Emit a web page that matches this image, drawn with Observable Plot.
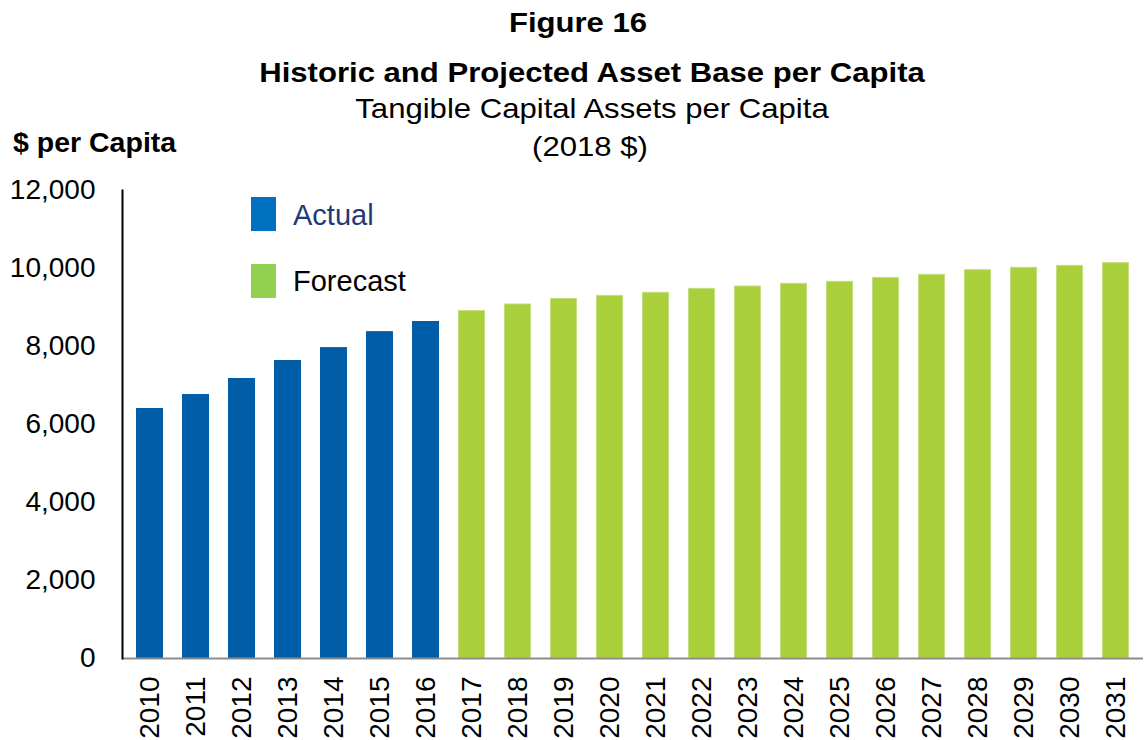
<!DOCTYPE html>
<html>
<head>
<meta charset="utf-8">
<script src="https://cdn.jsdelivr.net/npm/d3@7"></script>
<script src="https://cdn.jsdelivr.net/npm/@observablehq/plot@0.6"></script>
<style>
  html, body { margin: 0; padding: 0; background: #fff; }
  #wrap { position: relative; width: 1144px; height: 740px; overflow: hidden; font-family: "Liberation Sans", Arial, sans-serif; color: #000; }
  #header { position: relative; width: 1144px; height: 172px; }
  .t { position: absolute; white-space: nowrap; line-height: 1; }
  .c { width: 1000px; text-align: center; transform: scaleX(1.11); transform-origin: 50% 50%; font-size: 28px; }
  .sw { position: absolute; }
  .lg { position: absolute; white-space: nowrap; line-height: 1; font-size: 29px; }
</style>
</head>
<body>
<div id="wrap">
  <div id="header">
    <div class="t c" style="left:78px; top:9px; font-weight:bold;">Figure 16</div>
    <div class="t c" style="left:92px; top:59px; font-weight:bold;">Historic and Projected Asset Base per Capita</div>
    <div class="t c" style="left:92px; top:95px;">Tangible Capital Assets per Capita</div>
    <div class="t c" style="left:90px; top:133px;">(2018 $)</div>
    <div class="t" style="left:13px; top:128px; font-size:28.5px; font-weight:bold;">$ per Capita</div>
  </div>
  <div id="chart"></div>
  <div id="legend"></div>
</div>
<script>
const years = ["2010","2011","2012","2013","2014","2015","2016","2017","2018","2019","2020","2021","2022","2023","2024","2025","2026","2027","2028","2029","2030","2031"];
const values = [6410, 6770, 7180, 7640, 7970, 8380, 8640, 8920, 9090, 9230, 9310, 9390, 9490, 9550, 9620, 9670, 9770, 9850, 9970, 10030, 10080, 10150];
const kinds = ["Actual","Actual","Actual","Actual","Actual","Actual","Actual","Forecast","Forecast","Forecast","Forecast","Forecast","Forecast","Forecast","Forecast","Forecast","Forecast","Forecast","Forecast","Forecast","Forecast","Forecast"];
const seriesNames = ["Actual", "Forecast"];
const barColors = ["#005DA8", "#A9CF3B"];
const barEdges = ["#005DA8", "#C3DE7E"];
const legendColors = ["#0070C0", "#92D050"];
const legendTextColors = ["#1F3A78", "#000000"];
const yTicks = [0, 2000, 4000, 6000, 8000, 10000, 12000];

const data = years.map((y, i) => ({year: y, value: values[i], kind: kinds[i]}));

const chart = Plot.plot({
  width: 1144,
  height: 568,
  marginTop: 18,
  marginBottom: 82,
  marginLeft: 122,
  marginRight: 1,
  style: {fontFamily: "'Liberation Sans', Arial, sans-serif", fontSize: "28px", color: "#000", background: "#fff"},
  x: {domain: years, paddingInner: 0.42, paddingOuter: 0.21, label: null},
  y: {domain: [0, 12000], label: null},
  color: {domain: seriesNames, range: barColors},
  marks: [
    Plot.barY(data, {x: "year", y: "value", fill: "kind", stroke: d => barEdges[seriesNames.indexOf(d.kind)], strokeWidth: 1, insetTop: 0.5, insetLeft: 0.5, insetRight: 0.5}),
    Plot.ruleY([0], {stroke: "#8C8C8C", strokeWidth: 2}),
    Plot.frame({anchor: "left", stroke: "#000", strokeWidth: 2}),
    Plot.axisY({ticks: yTicks, tickFormat: d3.format(","), tickSize: 0, tickPadding: 27, fontSize: 28, label: null}),
    Plot.axisX({tickRotate: -90, tickSize: 0, tickPadding: 18, fontSize: 28, label: null})
  ]
});
document.getElementById("chart").appendChild(chart);

// legend overlay
const legend = document.getElementById("legend");
const swTops = [197, 264];
const txtTops = [201, 267];
seriesNames.forEach((name, i) => {
  const sw = document.createElement("div");
  sw.className = "sw";
  sw.style.left = "251px";
  sw.style.top = swTops[i] + "px";
  sw.style.width = "25px";
  sw.style.height = "34px";
  sw.style.background = legendColors[i];
  legend.appendChild(sw);
  const tx = document.createElement("div");
  tx.className = "lg";
  tx.style.left = "293px";
  tx.style.top = txtTops[i] + "px";
  tx.style.color = legendTextColors[i];
  tx.textContent = name;
  legend.appendChild(tx);
});
</script>
</body>
</html>
